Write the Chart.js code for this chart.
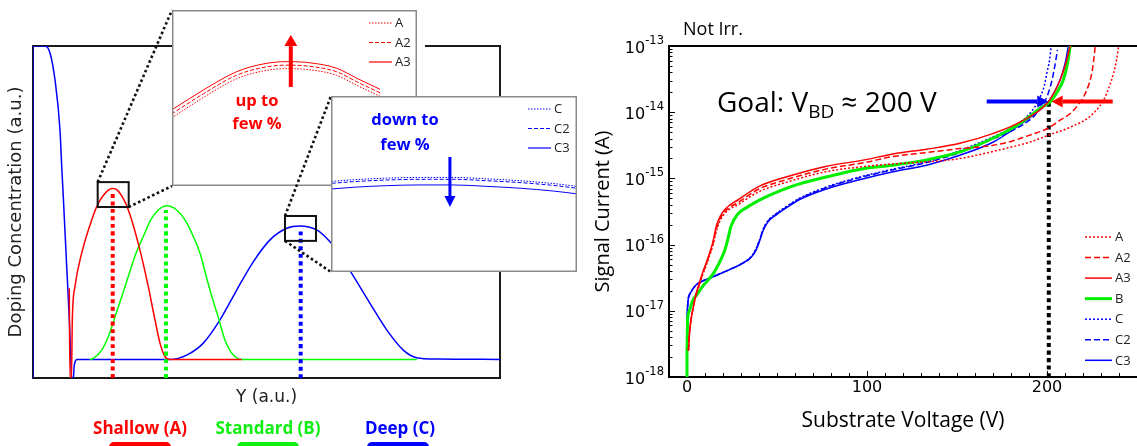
<!DOCTYPE html>
<html>
<head>
<meta charset="utf-8">
<script src="https://cdn.jsdelivr.net/npm/chart.js@4.4.1/dist/chart.umd.min.js"></script>
<style>
  html, body { margin:0; padding:0; background:#fff; }
  body { width:1137px; height:446px; overflow:hidden; position:relative; font-family:'Open Sans', sans-serif; color:#000; }
  canvas { position:absolute; display:block; }
  .txt { position:absolute; white-space:nowrap; line-height:1; }
  .ctr { transform: translateX(-50%); text-align:center; }
  .bar { position:absolute; top:442px; height:10px; border-radius:5px; }
</style>
</head>
<body>
<canvas id="doping" width="520" height="446" style="left:0;top:0"></canvas>
<div style="position:absolute;left:172px;top:10px;width:253px;height:177px;background:#fff"></div>
<canvas id="insetA" width="245" height="176" style="left:172px;top:10px;background:#fff"></canvas>
<div class="txt ctr" style="left:257px;top:88px;font-weight:700;font-size:16.5px;line-height:23px;color:#ff0000">up to<br>few %</div>
<canvas id="links" width="600" height="446" style="left:0;top:0"></canvas>
<canvas id="insetC" width="246" height="176" style="left:331px;top:96px;background:#fff"></canvas>
<div class="txt ctr" style="left:405px;top:107px;font-weight:700;font-size:16.5px;line-height:24.5px;color:#0000ff">down to<br>few %</div>

<div class="txt ctr" style="left:140px;top:419px;font-weight:700;font-size:17px;color:#ff0000">Shallow (A)</div>
<div class="txt ctr" style="left:268px;top:419px;font-weight:700;font-size:17px;color:#11ee11">Standard (B)</div>
<div class="txt ctr" style="left:400px;top:419px;font-weight:700;font-size:17px;color:#0000ff">Deep (C)</div>
<div class="bar" style="left:109px;width:62px;background:#ff0000"></div>
<div class="bar" style="left:237px;width:62px;background:#11ee11"></div>
<div class="bar" style="left:367px;width:62px;background:#0000ff"></div>

<canvas id="iv" width="547" height="446" style="left:590px;top:0"></canvas>
<div class="txt" style="left:683px;top:19px;font-size:18px">Not Irr.</div>
<div class="txt" style="left:717px;top:87px;font-size:28px">Goal: V<span style="font-size:19px;position:relative;top:6px">BD</span> ≈ 200 V</div>

<script>
// ================= DATA =================
// Left panel: doping concentration profiles (a.u.)
const DOP_C_X = [0, 0, 0.257, 0.364, 0.471, 0.578, 0.614, 0.649, 0.722, 0.778, 0.807, 0.829, 0.867, 0.878, 0.899, 0.942, 2.934, 3.291, 3.647, 4.004, 4.362, 4.717, 5.075, 5.433, 5.717, 6.075, 6.289, 6.503, 6.824, 7.216, 7.574, 7.929, 8.216, 8.645, 10];
const DOP_C_Y = [0, 1.0, 1.0, 0.979, 0.898, 0.747, 0.640, 0.545, 0.335, 0.175, 0.070, 0, 0, 0.030, 0.048, 0.056, 0.056, 0.069, 0.105, 0.175, 0.265, 0.350, 0.416, 0.451, 0.458, 0.446, 0.421, 0.386, 0.315, 0.225, 0.145, 0.084, 0.061, 0.057, 0.056];
const DOP_B_X = [1.22, 1.291, 1.471, 1.612, 1.734, 1.970, 2.206, 2.362, 2.520, 2.683, 2.863, 3.077, 3.255, 3.433, 3.576, 3.769, 3.983, 4.111, 4.240, 4.347, 4.469, 8.223];
const DOP_B_Y = [0.056, 0.059, 0.084, 0.124, 0.175, 0.275, 0.376, 0.426, 0.476, 0.506, 0.519, 0.506, 0.476, 0.426, 0.376, 0.275, 0.175, 0.114, 0.078, 0.062, 0.056, 0.056];
const DOP_A_X = [0.777, 0.792, 0.824, 0.842, 0.899, 1.043, 1.257, 1.398, 1.612, 1.707, 1.805, 1.985, 2.113, 2.306, 2.469, 2.612, 2.719, 2.827, 2.934, 4.469];
const DOP_A_Y = [0.270, 0, 0, 0.175, 0.275, 0.376, 0.476, 0.526, 0.566, 0.571, 0.566, 0.526, 0.476, 0.376, 0.275, 0.175, 0.105, 0.064, 0.056, 0.056];
const PEAK_NAMES = ['A', 'B', 'C'];
const PEAK_POS = [1.707, 2.848, 5.732];
const PEAK_TOP = [0.556, 0.506, 0.441];
const ZOOM_A = [1.385, 2.049, 0.515, 0.590];   // x0, x1, y0, y1
const ZOOM_C = [5.396, 6.060, 0.413, 0.488];

// Inset A (zoom on shallow peak)
const INSET_A_X  = [1.384, 1.470, 1.560, 1.632, 1.696, 1.759, 1.831, 1.886, 1.949];
const INSET_A_A  = [0.5440, 0.5527, 0.5607, 0.5640, 0.5650, 0.5645, 0.5622, 0.5579, 0.5532];
const INSET_A_A2 = [0.5457, 0.5543, 0.5622, 0.5655, 0.5665, 0.5660, 0.5637, 0.5594, 0.5547];
const INSET_A_A3 = [0.5474, 0.5559, 0.5637, 0.5670, 0.5680, 0.5675, 0.5652, 0.5609, 0.5562];
// Inset C (zoom on deep peak)
const INSET_C_X  = [5.398, 5.456, 5.546, 5.636, 5.726, 5.816, 5.906, 5.996, 6.060];
const INSET_C_C  = [0.4516, 0.4523, 0.4530, 0.4533, 0.4533, 0.4527, 0.4519, 0.4507, 0.4495];
const INSET_C_C2 = [0.4508, 0.4515, 0.4522, 0.4525, 0.4525, 0.4519, 0.4511, 0.4499, 0.4487];
const INSET_C_C3 = [0.4484, 0.4491, 0.4498, 0.4501, 0.4501, 0.4495, 0.4487, 0.4475, 0.4463];

// Right panel: signal current vs substrate voltage (values as log10 of current in A)
const V_A   = [0.8,1.5,3.1,5,6.8,8.7,10.6,12.5,14.3,16.3,18.5,21,24,28,40,55,77,98.7,114.5,133,151.6,172,190.6,203.6,209.1,215,222.2,227,231.4,234.5,237,238.7,239.8];
const LOG_A = [-17.6,-17.3,-17.0,-16.77,-16.62,-16.46,-16.32,-16.17,-16.02,-15.8,-15.63,-15.53,-15.46,-15.4,-15.2,-15.06,-14.9,-14.82,-14.78,-14.75,-14.70,-14.58,-14.45,-14.32,-14.27,-14.2,-14.1,-13.98,-13.82,-13.62,-13.41,-13.2,-13.0];
const V_A2   = [0.8,1.5,3.1,5,6.8,8.7,10.6,12.5,14.3,16.3,18.5,21,24,28,40,55,77,98.7,114.5,133,151.6,170.2,181.3,190,199.9,207.3,212.9,217,220.3,223,224.9,226,226.8];
const LOG_A2 = [-17.6,-17.3,-17.0,-16.76,-16.6,-16.44,-16.3,-16.15,-16.0,-15.76,-15.6,-15.5,-15.43,-15.37,-15.16,-15.02,-14.86,-14.76,-14.67,-14.61,-14.55,-14.50,-14.43,-14.35,-14.25,-14.12,-14.02,-13.9,-13.77,-13.6,-13.41,-13.2,-13.0];
const V_A3   = [0.8,1.5,3.1,5,6.8,8.7,10.6,12.5,14.3,16.3,18.5,21,24,28,40,55,77,98.7,114.5,133,151.6,170.2,185,199.9,205,209.5,212.9];
const LOG_A3 = [-17.6,-17.3,-17.0,-16.75,-16.58,-16.42,-16.28,-16.13,-15.97,-15.72,-15.57,-15.47,-15.40,-15.33,-15.12,-14.98,-14.82,-14.72,-14.63,-14.56,-14.47,-14.32,-14.15,-13.87,-13.65,-13.35,-13.0];
const V_B   = [0,0,0.3,1.3,3.1,5.9,9.0,14.3,18.0,20.8,22.6,24.5,28.2,33.7,43.0,52.3,61.6,80.2,98.7,114.5,133.1,151.6,170.2,185.0,196.2,201.8,206,209.1,211.4,212.9];
const LOG_B = [-18.0,-17.59,-17.15,-17.0,-16.85,-16.74,-16.62,-16.45,-16.27,-16.1,-15.93,-15.72,-15.54,-15.43,-15.29,-15.18,-15.09,-14.96,-14.85,-14.80,-14.72,-14.60,-14.39,-14.17,-13.94,-13.84,-13.68,-13.51,-13.26,-13.0];
const V_C   = [0,0,0.3,1.7,5.0,12.4,21.7,31.0,36,38.4,40.3,42.1,44.9,49.6,53.2,58.8,62.5,77.4,95.9,114.5,133.1,151.6,170.2,181.3,188.7,193,196.2,198.5,199.9,201.5,202.3];
const LOG_C = [-17.9,-17.34,-16.94,-16.74,-16.61,-16.51,-16.40,-16.28,-16.17,-16.06,-15.93,-15.78,-15.64,-15.53,-15.46,-15.36,-15.30,-15.13,-14.98,-14.86,-14.75,-14.58,-14.37,-14.22,-14.07,-13.93,-13.77,-13.6,-13.41,-13.2,-13.0];
const V_C2   = [0,0,0.3,1.7,5.0,12.4,21.7,31.0,36,38.4,40.3,42.1,44.9,49.6,53.2,58.8,62.5,77.4,95.9,114.5,133.1,151.6,170.2,181.3,192.4,196.5,199.9,202,203.6,205,205.8];
const LOG_C2 = [-17.9,-17.34,-16.94,-16.74,-16.61,-16.51,-16.40,-16.28,-16.18,-16.07,-15.94,-15.79,-15.65,-15.54,-15.47,-15.37,-15.31,-15.14,-14.99,-14.87,-14.76,-14.61,-14.40,-14.27,-14.07,-13.93,-13.77,-13.6,-13.41,-13.2,-13.06];
const V_C3   = [0,0,0.3,1.7,5.0,12.4,21.7,31.0,36,38.4,40.3,42.1,44.9,49.6,53.2,58.8,62.5,77.4,95.9,114.5,133.1,151.6,170.2,185.0,198.0,200.8,204,207.3,210.1,211.9];
const LOG_C3 = [-17.9,-17.34,-16.94,-16.74,-16.61,-16.51,-16.40,-16.28,-16.18,-16.08,-15.95,-15.80,-15.66,-15.55,-15.48,-15.38,-15.32,-15.16,-15.02,-14.90,-14.80,-14.65,-14.45,-14.19,-13.92,-13.84,-13.7,-13.51,-13.26,-13.0];
const GOAL_V = 201;
const GOAL_LOG = -13.84;
const I_TICKS = [1e-18, 1e-17, 1e-16, 1e-15, 1e-14, 1e-13];
const I_TICK_BASE = '10';
const I_TICK_EXP = ['-18', '-17', '-16', '-15', '-14', '-13'];
const V_TICKS = [0, 100, 200];
const V_TICK_LABELS = ['0', '100', '200'];

// ================= HELPERS =================
const RED = '#ff0000', GREEN = '#00ff00', BLUE = '#0000ff';
const pts = (xs, ys) => xs.map((x, i) => ({x: x, y: ys[i]}));
const ptsLog = (vs, ls) => vs.map((v, i) => ({x: v, y: Math.pow(10, ls[i])}));

function drawArrow(ctx, x0, y0, x1, y1, color, w, head, hw) {
  const ang = Math.atan2(y1 - y0, x1 - x0);
  const bx = x1 - head * Math.cos(ang), by = y1 - head * Math.sin(ang);
  ctx.save();
  ctx.strokeStyle = color; ctx.fillStyle = color; ctx.lineWidth = w; ctx.lineCap = 'butt';
  ctx.beginPath(); ctx.moveTo(x0, y0); ctx.lineTo(bx, by); ctx.stroke();
  ctx.beginPath();
  ctx.moveTo(x1, y1);
  ctx.lineTo(bx + hw * Math.sin(ang), by - hw * Math.cos(ang));
  ctx.lineTo(bx - hw * Math.sin(ang), by + hw * Math.cos(ang));
  ctx.closePath(); ctx.fill();
  ctx.restore();
}

const arrowMarks = {
  id: 'arrowMarks',
  afterDatasetsDraw(chart, args, opts) {
    if (!opts || !opts.items) return;
    const {ctx, scales: {x, y}} = chart;
    opts.items.forEach(a => drawArrow(ctx, x.getPixelForValue(a.x0), y.getPixelForValue(a.y0),
      x.getPixelForValue(a.x1), y.getPixelForValue(a.y1), a.color, a.w, a.head, a.hw));
  }
};

const lineLegend = {
  id: 'lineLegend',
  afterDraw(chart, args, o) {
    if (!o || !o.items) return;
    const ctx = chart.ctx;
    ctx.save();
    o.items.forEach((idx, i) => {
      const ds = chart.data.datasets[idx];
      const y = o.y + i * o.dy;
      ctx.strokeStyle = ds.borderColor;
      ctx.lineWidth = o.lw || ds.borderWidth;
      ctx.setLineDash(ds.borderDash || []);
      ctx.beginPath(); ctx.moveTo(o.x, y); ctx.lineTo(o.x + o.len, y); ctx.stroke();
      ctx.setLineDash([]);
      ctx.fillStyle = o.color; ctx.font = o.font; ctx.textBaseline = 'middle'; ctx.textAlign = 'left';
      ctx.fillText(ds.label, o.x + o.len + o.gap, y + 0.5);
    });
    ctx.restore();
  }
};

const insetFrame = {
  id: 'insetFrame',
  afterDraw(chart) {
    const {ctx, width, height} = chart;
    ctx.save(); ctx.strokeStyle = '#8a8a8a'; ctx.lineWidth = 1.5;
    ctx.strokeRect(0.75, 0.75, width - 1.5, height - 1.5);
    ctx.restore();
  }
};

const dopingFrame = {
  id: 'dopingFrame',
  beforeDatasetsDraw(chart) {
    const {ctx, chartArea: a} = chart;
    ctx.save(); ctx.strokeStyle = '#1a1a1a'; ctx.lineWidth = 2;
    ctx.strokeRect(a.left, a.top, a.right - a.left, a.bottom - a.top);
    ctx.restore();
  },
  afterDatasetsDraw(chart) {
    const {ctx, scales: {x, y}} = chart;
    ctx.save(); ctx.strokeStyle = '#111'; ctx.lineWidth = 2;
    [ZOOM_A, ZOOM_C].forEach(b => {
      const l = x.getPixelForValue(b[0]), r = x.getPixelForValue(b[1]);
      const t = y.getPixelForValue(b[3]), bt = y.getPixelForValue(b[2]);
      ctx.strokeRect(l, t, r - l, bt - t);
    });
    ctx.restore();
  }
};

const ivAxes = {
  id: 'ivAxes',
  beforeDatasetsDraw(chart) {
    const {ctx, chartArea: a, scales: {x, y}} = chart;
    ctx.save(); ctx.strokeStyle = '#000'; ctx.lineWidth = 1;
    for (let v = -10; v <= 250; v += 10) {
      const px = Math.round(x.getPixelForValue(v)) + 0.5;
      const len = (v % 100 === 0) ? 6 : 4;
      ctx.beginPath(); ctx.moveTo(px, a.bottom); ctx.lineTo(px, a.bottom - len); ctx.stroke();
    }
    for (let e = -18; e < -13; e++) {
      for (let k = 1; k < 10; k++) {
        const py = Math.round(y.getPixelForValue(k * Math.pow(10, e))) + 0.5;
        const len = k === 1 ? 6 : 3.5;
        ctx.beginPath(); ctx.moveTo(a.left, py); ctx.lineTo(a.left + len, py); ctx.stroke();
      }
    }
    ctx.lineWidth = 2;
    ctx.beginPath();
    ctx.moveTo(a.right + 2, a.top); ctx.lineTo(a.left, a.top); ctx.lineTo(a.left, a.bottom); ctx.lineTo(a.right + 2, a.bottom);
    ctx.stroke();
    // y tick labels: "10" with raised exponent
    ctx.fillStyle = '#000'; ctx.textAlign = 'left';
    I_TICKS.forEach((v, i) => {
      const py = y.getPixelForValue(v);
      ctx.font = "11.5px 'DejaVu Sans'";
      const ew = ctx.measureText(I_TICK_EXP[i]).width;
      ctx.font = "16px 'DejaVu Sans'";
      const bw = ctx.measureText(I_TICK_BASE).width;
      const right = a.left - 5;
      ctx.textBaseline = 'alphabetic';
      ctx.fillText(I_TICK_BASE, right - ew - bw, py + 6.5);
      ctx.font = "11.5px 'DejaVu Sans'";
      ctx.fillText(I_TICK_EXP[i], right - ew, py - 2);
    });
    ctx.restore();
  }
};

Chart.defaults.font.family = "'Open Sans', sans-serif";
const baseOpts = {
  responsive: false, animation: false, events: [], devicePixelRatio: 1,
  elements: { point: { radius: 0 }, line: { cubicInterpolationMode: 'monotone', borderCapStyle: 'butt', fill: false } },
};

// ================= LEFT CHART =================
const doping = new Chart(document.getElementById('doping'), {
  type: 'line',
  data: { datasets: [
    { label: 'C', data: pts(DOP_C_X, DOP_C_Y), borderColor: BLUE, borderWidth: 1.5, order: 5 },
    { label: 'B', data: pts(DOP_B_X, DOP_B_Y), borderColor: GREEN, borderWidth: 1.5, order: 4 },
    { label: 'A', data: pts(DOP_A_X, DOP_A_Y), borderColor: RED, borderWidth: 1.5, order: 3 },
    ...PEAK_NAMES.map((n, i) => ({
      label: 'peak ' + n,
      data: [{x: PEAK_POS[i], y: 0}, {x: PEAK_POS[i], y: PEAK_TOP[i]}],
      borderColor: [RED, GREEN, BLUE][i], borderWidth: 4, borderDash: [4, 3.5], order: 2 - i
    }))
  ]},
  options: Object.assign({}, baseOpts, {
    layout: { padding: { top: 46, right: 20, left: 0, bottom: 0 } },
    plugins: { legend: { display: false }, tooltip: { enabled: false } },
    scales: {
      x: { type: 'linear', min: 0, max: 10,
           grid: { display: false, drawTicks: false }, border: { display: false }, ticks: { display: false },
           title: { display: true, text: 'Y (a.u.)', color: '#222', font: { family: 'DejaVu Sans', size: 17 }, padding: { top: 0, bottom: 38 } },
           afterFit(s) { s.height = 68; } },
      y: { type: 'linear', min: 0, max: 1,
           grid: { display: false, drawTicks: false }, border: { display: false }, ticks: { display: false },
           title: { display: true, text: 'Doping Concentration (a.u.)', color: '#222', font: { family: 'DejaVu Sans', size: 18 }, padding: { top: 6, bottom: 0 } },
           afterFit(s) { s.width = 33; } }
    }
  }),
  plugins: [dopingFrame]
});

// ================= INSETS =================
function insetOpts(box, legendItems, arrow) {
  return Object.assign({}, baseOpts, {
    layout: { padding: 0 },
    plugins: {
      legend: { display: false }, tooltip: { enabled: false },
      lineLegend: { items: legendItems, x: 197, y: 13, dy: 19.5, len: 23, gap: 3, lw: 1.2, color: '#222', font: "13px 'Open Sans'" },
      arrowMarks: { items: [arrow] }
    },
    scales: {
      x: { type: 'linear', display: false, min: box[0], max: box[1] },
      y: { type: 'linear', display: false, min: box[2], max: box[3] }
    }
  });
}
const insetA = new Chart(document.getElementById('insetA'), {
  type: 'line',
  data: { datasets: [
    { label: 'A',  data: pts(INSET_A_X, INSET_A_A),  borderColor: RED, borderWidth: 1, borderDash: [1.5, 1.5] },
    { label: 'A2', data: pts(INSET_A_X, INSET_A_A2), borderColor: RED, borderWidth: 1, borderDash: [4, 2] },
    { label: 'A3', data: pts(INSET_A_X, INSET_A_A3), borderColor: RED, borderWidth: 1 }
  ]},
  options: insetOpts(ZOOM_A, [0, 1, 2], { x0: PEAK_POS[0], y0: 0.5572, x1: PEAK_POS[0], y1: 0.5793, color: RED, w: 4, head: 11, hw: 6.5 }),
  plugins: [insetFrame, lineLegend, arrowMarks]
});
const insetC = new Chart(document.getElementById('insetC'), {
  type: 'line',
  data: { datasets: [
    { label: 'C',  data: pts(INSET_C_X, INSET_C_C),  borderColor: BLUE, borderWidth: 1, borderDash: [1.5, 1.5] },
    { label: 'C2', data: pts(INSET_C_X, INSET_C_C2), borderColor: BLUE, borderWidth: 1, borderDash: [4, 2] },
    { label: 'C3', data: pts(INSET_C_X, INSET_C_C3), borderColor: BLUE, borderWidth: 1 }
  ]},
  options: insetOpts(ZOOM_C, [0, 1, 2], { x0: 5.717, y0: 0.4620, x1: 5.717, y1: 0.4407, color: BLUE, w: 3, head: 11, hw: 5.5 }),
  plugins: [insetFrame, lineLegend, arrowMarks]
});

// ================= CONNECTORS =================
(function drawLinks() {
  const c = document.getElementById('links'); const ctx = c.getContext('2d');
  const xs = doping.scales.x, ys = doping.scales.y;
  const box = b => ({ l: xs.getPixelForValue(b[0]), r: xs.getPixelForValue(b[1]), b: ys.getPixelForValue(b[2]), t: ys.getPixelForValue(b[3]) });
  const ra = box(ZOOM_A), rc = box(ZOOM_C);
  const ia = document.getElementById('insetA'), ic = document.getElementById('insetC');
  const A = { l: ia.offsetLeft, t: ia.offsetTop, b: ia.offsetTop + ia.height };
  const C = { l: ic.offsetLeft, t: ic.offsetTop, b: ic.offsetTop + ic.height };
  ctx.strokeStyle = '#111'; ctx.lineWidth = 2.6; ctx.setLineDash([2.6, 2.6]);
  const seg = (x0, y0, x1, y1) => { ctx.beginPath(); ctx.moveTo(x0, y0); ctx.lineTo(x1, y1); ctx.stroke(); };
  seg(ra.l, ra.t, A.l, A.t);
  seg(ra.r, ra.b, A.l, A.b);
  seg(rc.l, rc.t, C.l, C.t);
  seg(rc.l, rc.b, C.l, C.b);
})();

// ================= RIGHT CHART =================
const DOT = [2, 2], DASH = [6, 3];
const iv = new Chart(document.getElementById('iv'), {
  type: 'line',
  data: { datasets: [
    { label: 'A',  data: ptsLog(V_A, LOG_A),   borderColor: RED,  borderWidth: 1.5, borderDash: DOT },
    { label: 'A2', data: ptsLog(V_A2, LOG_A2), borderColor: RED,  borderWidth: 1.5, borderDash: DASH },
    { label: 'A3', data: ptsLog(V_A3, LOG_A3), borderColor: RED,  borderWidth: 1.5 },
    { label: 'B',  data: ptsLog(V_B, LOG_B),   borderColor: '#00ee00', borderWidth: 3 },
    { label: 'C',  data: ptsLog(V_C, LOG_C),   borderColor: BLUE, borderWidth: 1.5, borderDash: DOT },
    { label: 'C2', data: ptsLog(V_C2, LOG_C2), borderColor: BLUE, borderWidth: 1.5, borderDash: DASH },
    { label: 'C3', data: ptsLog(V_C3, LOG_C3), borderColor: BLUE, borderWidth: 1.5 },
    { label: 'V_BD goal', data: [{x: GOAL_V, y: 1e-18}, {x: GOAL_V, y: Math.pow(10, GOAL_LOG)}], borderColor: '#000', borderWidth: 4, borderDash: [4, 3.5] }
  ]},
  options: Object.assign({}, baseOpts, {
    layout: { padding: { top: 46, right: 0, left: 0, bottom: 0 } },
    plugins: {
      legend: { display: false }, tooltip: { enabled: false },
      lineLegend: { items: [0, 1, 2, 3, 4, 5, 6], x: 495, y: 237, dy: 20.55, len: 27, gap: 3, color: '#222', font: "13px 'Open Sans'" },
      arrowMarks: { items: [
        { x0: 166.5, y0: Math.pow(10, GOAL_LOG), x1: 200.7, y1: Math.pow(10, GOAL_LOG), color: BLUE, w: 4, head: 11, hw: 6 },
        { x0: 236.5, y0: Math.pow(10, GOAL_LOG), x1: 202.6, y1: Math.pow(10, GOAL_LOG), color: RED, w: 4, head: 11, hw: 6 }
      ] }
    },
    scales: {
      x: { type: 'linear', min: -10, max: 250,
           grid: { display: false, drawTicks: false }, border: { display: false },
           afterBuildTicks(s) { s.ticks = V_TICKS.map(v => ({ value: v })); },
           ticks: { callback: (v, i) => V_TICK_LABELS[i], color: '#000', font: { family: 'DejaVu Sans', size: 16 }, padding: 1, maxRotation: 0, autoSkip: false },
           title: { display: true, text: 'Substrate Voltage (V)', color: '#000', font: { family: 'Open Sans', size: 21 }, padding: { top: 0, bottom: 12 } },
           afterFit(s) { s.height = 69; } },
      y: { type: 'logarithmic', min: 1e-18, max: 1e-13,
           grid: { display: false, drawTicks: false }, border: { display: false },
           afterBuildTicks(s) { s.ticks = I_TICKS.map(v => ({ value: v })); },
           ticks: { display: false },
           title: { display: true, text: 'Signal Current (A)', color: '#000', font: { family: 'Open Sans', size: 20 }, padding: { top: 1, bottom: 0 } },
           afterFit(s) { s.width = 79; } }
    }
  }),
  plugins: [ivAxes, lineLegend, arrowMarks]
});
</script>
</body>
</html>
